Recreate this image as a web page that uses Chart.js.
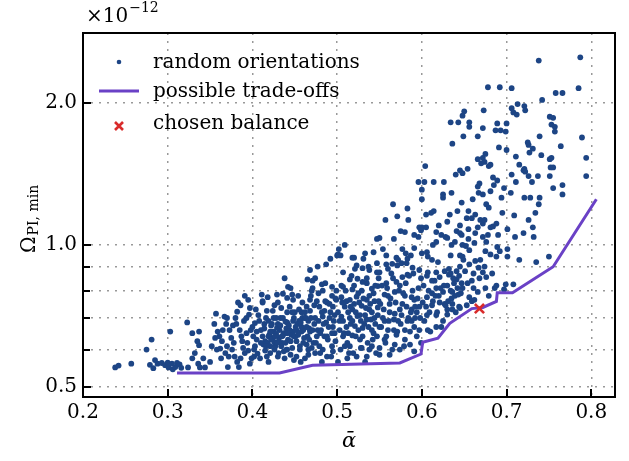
<!DOCTYPE html>
<html>
<head>
<meta charset="utf-8">
<script src="https://cdn.jsdelivr.net/npm/chart.js@4.4.1/dist/chart.umd.min.js"></script>
<style>
  html, body { margin: 0; padding: 0; background: #fff; }
  #wrap { width: 629px; height: 461px; }
</style>
</head>
<body>
<div id="wrap"><canvas id="chart" width="629" height="461"></canvas></div>
<script>
      // axis ticks (omega values in units of 1e-12)
      const xTicks = [0.2, 0.3, 0.4, 0.5, 0.6, 0.7, 0.8];
      const yTicks = [0.5, 0.6, 0.7, 0.8, 0.9, 1.0, 2.0];
      const yLabelled = [0.5, 1.0, 2.0];

      // possible trade-offs (lower front)
      const tradeAlpha = [0.311, 0.432, 0.471, 0.574, 0.599, 0.601, 0.619, 0.633, 0.659, 0.672, 0.688, 0.689, 0.707, 0.755, 0.806];
      const tradeOmega = [0.535, 0.535, 0.556, 0.562, 0.587, 0.622, 0.634, 0.682, 0.733, 0.737, 0.759, 0.792, 0.792, 0.899, 1.25];

      // chosen balance
      const chosenAlpha = [0.668];
      const chosenOmega = [0.733];

      // random orientations [alpha, omega]
      const randomPoints = [
        [0.238,0.55],[0.242,0.555],[0.257,0.56],[0.275,0.60],[0.281,0.63],[0.279,0.557],[0.283,0.548],[0.285,0.57],[0.288,0.56],[0.293,0.562],[0.297,0.556],[0.300,0.563],[0.301,0.55],
        [0.303,0.655],[0.305,0.56],[0.306,0.545],[0.309,0.551],[0.311,0.562],[0.314,0.558],[0.316,0.549],[0.323,0.685],[0.324,0.55],[0.329,0.65],[0.329,0.575],[0.332,0.59],[0.336,0.56],[0.338,0.55],[0.337,0.655],[0.335,0.625],[0.337,0.613],[0.342,0.575],[0.344,0.55],[0.350,0.565],
        [0.352,0.61],[0.356,0.635],[0.358,0.60],[0.357,0.715],[0.355,0.68],[0.359,0.655],[0.362,0.603],[0.363,0.575],[0.367,0.705],[0.365,0.66],[0.370,0.70],[0.370,0.61],[0.372,0.58],[0.371,0.551],[0.375,0.635],[0.377,0.675],[0.380,0.70],[0.382,0.722],[0.383,0.755],[0.386,0.745],[0.379,0.58],[0.382,0.565],[0.384,0.551],[0.388,0.625],[0.389,0.605],[0.391,0.59],[0.391,0.78],[0.393,0.70],[0.393,0.65],[0.396,0.712],[0.397,0.735],[0.395,0.597],[0.397,0.56],[0.399,0.575],[0.385,0.66],[0.364,0.625],[0.376,0.60],[0.395,0.765],
        [0.361,0.64],[0.368,0.59],[0.373,0.66],[0.378,0.62],[0.381,0.68],[0.387,0.64],[0.390,0.69],[0.394,0.62],[0.398,0.66],[0.369,0.68],[0.386,0.575],
        [0.400,0.67],[0.403,0.683],[0.405,0.63],[0.403,0.61],[0.402,0.58],[0.406,0.588],[0.411,0.785],[0.412,0.755],[0.412,0.64],[0.415,0.625],[0.417,0.725],[0.418,0.775],[0.415,0.597],[0.417,0.58],[0.419,0.565],[0.421,0.61],[0.423,0.68],[0.424,0.725],[0.424,0.635],[0.426,0.622],[0.426,0.60],[0.429,0.785],[0.430,0.755],[0.430,0.68],[0.430,0.58],[0.432,0.637],[0.435,0.62],[0.436,0.788],[0.438,0.85],[0.441,0.72],[0.441,0.685],[0.441,0.772],[0.441,0.60],[0.442,0.815],[0.444,0.74],[0.445,0.81],[0.447,0.785],[0.448,0.765],[0.448,0.655],[0.450,0.72],[0.449,0.70],
        [0.420,0.645],[0.425,0.655],[0.428,0.648],[0.432,0.66],[0.437,0.65],[0.434,0.61],[0.446,0.645],[0.440,0.665],[0.418,0.62],[0.422,0.675],[0.431,0.59],[0.438,0.575],
        [0.402,0.60],[0.405,0.655],[0.408,0.69],[0.409,0.575],[0.413,0.615],[0.414,0.665],[0.416,0.70],[0.419,0.64],[0.421,0.59],[0.423,0.655],[0.427,0.61],[0.429,0.667],[0.431,0.625],[0.433,0.70],[0.436,0.643],[0.437,0.595],[0.439,0.688],[0.442,0.63],[0.444,0.66],[0.447,0.605],[0.448,0.69],[0.449,0.57],[0.404,0.73],[0.426,0.745],[0.412,0.76],[0.434,0.735],
        [0.401,0.64],[0.407,0.71],[0.410,0.62],[0.414,0.68],[0.416,0.61],[0.419,0.69],[0.422,0.63],[0.425,0.70],[0.427,0.64],[0.429,0.62],[0.433,0.675],[0.435,0.64],[0.436,0.70],[0.439,0.62],[0.441,0.65],[0.443,0.675],[0.445,0.625],[0.447,0.72],[0.449,0.64],[0.410,0.66],[0.421,0.655],[0.428,0.70],[0.440,0.60],[0.445,0.585],
        [0.452,0.625],[0.452,0.58],[0.454,0.78],[0.456,0.61],[0.458,0.67],[0.459,0.70],[0.462,0.575],[0.464,0.74],[0.465,0.64],[0.465,0.845],[0.468,0.765],[0.468,0.885],[0.474,0.85],[0.477,0.90],[0.487,0.91],[0.492,0.935],[0.500,0.95],[0.471,0.84],[0.482,0.825],[0.470,0.80],[0.483,0.80],[0.494,0.815],[0.494,0.78],[0.476,0.76],[0.479,0.74],[0.488,0.755],[0.495,0.74],[0.499,0.765],[0.468,0.725],[0.462,0.70],[0.474,0.70],[0.483,0.705],[0.491,0.70],[0.495,0.67],[0.477,0.66],[0.468,0.655],[0.485,0.64],[0.497,0.65],[0.464,0.615],[0.479,0.61],[0.494,0.61],[0.474,0.59],[0.488,0.58],[0.495,0.595],[0.501,0.565],[0.482,0.565],
        [0.455,0.69],[0.452,0.66],[0.458,0.72],[0.460,0.62],[0.466,0.69],[0.470,0.605],[0.457,0.565],
        [0.451,0.64],[0.453,0.68],[0.456,0.60],[0.458,0.655],[0.459,0.755],[0.461,0.635],[0.463,0.70],[0.466,0.585],[0.467,0.665],[0.469,0.78],[0.472,0.62],[0.473,0.68],[0.476,0.64],[0.478,0.79],[0.481,0.66],[0.483,0.60],[0.485,0.725],[0.487,0.685],[0.489,0.63],[0.491,0.75],[0.493,0.58],[0.496,0.69],[0.498,0.625],[0.499,0.80],[0.455,0.73],[0.471,0.81],[0.486,0.83],
        [0.451,0.67],[0.454,0.645],[0.457,0.685],[0.460,0.66],[0.462,0.72],[0.464,0.67],[0.467,0.63],[0.469,0.70],[0.471,0.66],[0.473,0.745],[0.475,0.62],[0.478,0.69],[0.480,0.65],[0.482,0.72],[0.484,0.68],[0.486,0.76],[0.488,0.64],[0.490,0.67],[0.492,0.72],[0.494,0.65],[0.497,0.71],[0.498,0.77],[0.480,0.59],[0.466,0.60],
        [0.502,0.98],[0.501,0.955],[0.509,1.0],[0.518,0.94],[0.533,0.96],[0.543,0.965],[0.550,1.035],[0.507,0.875],[0.521,0.89],[0.530,0.893],[0.538,0.885],[0.547,0.915],[0.547,0.875],[0.515,0.845],[0.524,0.848],[0.535,0.83],[0.507,0.815],[0.518,0.805],[0.529,0.80],[0.541,0.808],[0.548,0.818],[0.505,0.775],[0.515,0.765],[0.523,0.777],[0.535,0.765],[0.544,0.76],[0.509,0.74],[0.518,0.73],[0.529,0.743],[0.538,0.73],[0.548,0.737],[0.505,0.705],[0.515,0.70],[0.524,0.707],[0.535,0.695],[0.544,0.70],[0.511,0.67],[0.521,0.673],[0.530,0.667],[0.541,0.66],[0.550,0.67],[0.507,0.64],[0.518,0.643],[0.530,0.64],[0.542,0.63],[0.515,0.61],[0.529,0.605],[0.541,0.61],[0.523,0.58],[0.535,0.58],[0.550,0.605],[0.512,0.575],[0.533,0.565],[0.550,0.585],
        [0.547,1.03],[0.520,0.94],[0.531,0.935],[0.523,0.905],[0.537,0.90],[0.504,0.95],
        [0.503,0.69],[0.504,0.60],[0.506,0.755],[0.508,0.65],[0.510,0.80],[0.512,0.62],[0.513,0.72],[0.516,0.68],[0.517,0.86],[0.519,0.59],[0.520,0.75],[0.522,0.64],[0.525,0.79],[0.527,0.71],[0.528,0.605],[0.530,0.835],[0.532,0.68],[0.534,0.735],[0.536,0.62],[0.538,0.78],[0.540,0.695],[0.543,0.65],[0.545,0.82],[0.546,0.59],[0.548,0.71],[0.549,0.76],
        [0.501,0.72],[0.503,0.66],[0.505,0.82],[0.507,0.69],[0.509,0.61],[0.511,0.76],[0.513,0.65],[0.516,0.74],[0.518,0.69],[0.520,0.82],[0.522,0.72],[0.525,0.66],[0.526,0.755],[0.528,0.69],[0.531,0.77],[0.533,0.71],[0.535,0.85],[0.537,0.67],[0.539,0.75],[0.541,0.72],[0.543,0.79],[0.545,0.68],[0.547,0.64],[0.549,0.85],[0.514,0.59],[0.527,0.63],[0.538,0.60],
        [0.566,1.22],[0.571,1.15],[0.557,1.13],[0.583,1.195],[0.584,1.13],[0.567,1.03],[0.575,1.07],[0.580,1.065],[0.591,1.05],[0.597,1.09],[0.596,1.04],[0.554,0.98],[0.558,0.95],[0.570,0.94],[0.577,0.98],[0.581,0.96],[0.583,0.935],[0.576,0.915],[0.591,0.985],[0.600,0.96],[0.558,0.91],[0.565,0.912],[0.571,0.905],[0.582,0.915],[0.550,0.875],[0.558,0.83],[0.570,0.835],[0.577,0.855],[0.583,0.865],[0.589,0.895],[0.597,0.885],[0.556,0.785],[0.568,0.795],[0.580,0.78],[0.591,0.765],[0.562,0.75],[0.574,0.73],[0.588,0.73],[0.597,0.74],[0.554,0.70],[0.567,0.695],[0.583,0.69],[0.594,0.72],[0.560,0.66],[0.571,0.655],[0.588,0.69],[0.591,0.67],[0.556,0.63],[0.568,0.615],[0.580,0.63],[0.562,0.585],[0.574,0.60],[0.586,0.615],[0.591,0.595],[0.596,1.36],
        [0.552,0.67],[0.555,0.73],[0.557,0.62],[0.559,0.81],[0.561,0.69],[0.563,0.77],[0.565,0.60],[0.566,0.85],[0.568,0.715],[0.570,0.645],[0.573,0.80],[0.575,0.68],[0.577,0.75],[0.579,0.61],[0.581,0.83],[0.584,0.70],[0.586,0.655],[0.588,0.775],[0.590,0.87],[0.592,0.74],[0.594,0.64],[0.596,0.81],[0.598,0.70],[0.599,0.62],
        [0.551,0.75],[0.553,0.82],[0.556,0.69],[0.558,0.64],[0.560,0.78],[0.562,0.72],[0.564,0.87],[0.567,0.66],[0.569,0.755],[0.572,0.69],[0.574,0.82],[0.576,0.71],[0.578,0.79],[0.580,0.66],[0.582,0.74],[0.585,0.86],[0.587,0.72],[0.589,0.80],[0.592,0.70],[0.595,0.77],[0.597,0.66],[0.599,0.85],[0.572,0.93],[0.587,0.95],[0.560,0.89],
        [0.604,1.47],[0.603,1.36],[0.614,1.36],[0.626,1.36],[0.600,1.31],[0.600,1.25],[0.625,1.28],[0.625,1.26],[0.635,1.29],[0.647,1.23],[0.645,1.44],[0.640,1.41],[0.648,1.42],[0.634,1.82],[0.643,1.82],[0.636,1.64],[0.650,1.92],[0.648,1.88],[0.649,1.70],[0.605,1.16],[0.611,1.17],[0.614,1.18],[0.633,1.16],[0.642,1.18],[0.630,1.12],[0.600,1.09],[0.599,1.075],[0.617,1.065],[0.623,1.05],[0.628,1.04],[0.641,1.07],[0.647,1.05],[0.605,1.09],[0.617,1.015],[0.630,1.035],[0.639,1.015],[0.645,1.06],[0.645,0.95],[0.648,1.0],[0.606,0.965],[0.607,0.945],[0.612,0.93],[0.607,0.875],[0.617,0.875],[0.621,0.855],[0.632,0.865],[0.630,0.82],[0.641,0.845],[0.625,0.795],[0.617,0.81],[0.612,0.79],[0.606,0.775],[0.601,0.755],[0.636,0.795],[0.643,0.785],[0.612,0.745],[0.621,0.755],[0.627,0.75],[0.630,0.73],[0.636,0.75],[0.644,0.74],[0.606,0.71],[0.617,0.71],[0.625,0.69],[0.607,0.66],[0.617,0.67],[0.634,0.87],[0.641,0.88],[0.645,0.90],[0.634,0.80],[0.639,0.78],[0.630,0.712],[0.636,0.73],[0.645,0.735],[0.647,0.83],[0.648,0.81],[0.648,0.945],
        [0.603,0.69],[0.605,0.74],[0.608,0.80],[0.610,0.655],[0.613,0.76],[0.615,0.84],[0.618,0.72],[0.620,0.78],[0.623,0.67],[0.626,0.82],[0.628,0.745],[0.632,0.89],[0.635,0.77],[0.638,0.83],[0.640,0.72],[0.644,0.86],[0.646,0.79],[0.649,0.93],
        [0.602,0.82],[0.606,0.86],[0.609,0.72],[0.612,0.84],[0.616,0.78],[0.619,0.92],[0.622,0.81],[0.627,0.88],[0.631,0.76],[0.634,0.95],[0.637,0.85],[0.642,0.81],[0.645,1.10],[0.651,0.88],[0.655,1.03],[0.659,0.84],[0.663,1.06],[0.669,0.93],[0.675,0.97],[0.679,1.20],[0.683,0.87],[0.690,1.05],[0.695,1.17],[0.620,1.10],[0.613,1.00],[0.635,1.00],[0.660,1.25],[0.676,1.22],
        [0.654,1.45],[0.656,1.82],[0.656,1.78],[0.666,1.70],[0.672,1.77],[0.673,1.93],[0.678,2.16],[0.692,2.16],[0.666,1.52],[0.672,1.53],[0.674,1.50],[0.670,1.49],[0.679,1.47],[0.675,1.56],[0.689,1.81],[0.700,1.81],[0.687,1.75],[0.693,1.75],[0.699,1.74],[0.691,1.61],[0.700,1.59],[0.681,1.48],[0.666,1.33],[0.668,1.35],[0.667,1.29],[0.672,1.28],[0.681,1.30],[0.685,1.34],[0.684,1.39],[0.689,1.37],[0.697,1.32],[0.694,1.26],[0.655,1.18],[0.663,1.16],[0.653,1.14],[0.659,1.14],[0.669,1.13],[0.672,1.11],[0.674,1.13],[0.655,1.08],[0.666,1.09],[0.681,1.09],[0.684,1.095],[0.688,1.11],[0.678,1.05],[0.672,1.04],[0.676,1.015],[0.689,0.99],[0.692,0.97],[0.681,0.955],[0.688,0.945],[0.652,0.995],[0.656,0.975],[0.662,1.01],[0.663,0.925],[0.656,0.91],[0.667,0.895],[0.672,0.875],[0.674,0.90],[0.676,0.855],[0.661,0.87],[0.668,0.85],[0.654,0.83],[0.661,0.81],[0.666,0.795],[0.675,0.81],[0.686,0.81],[0.688,0.82],[0.697,0.805],[0.699,0.825],[0.679,0.78],[0.656,0.775],[0.659,0.76],[0.653,0.745],[0.662,0.765],
        [0.706,2.15],[0.713,1.99],[0.721,1.97],[0.722,1.93],[0.706,1.95],[0.708,1.91],[0.712,1.89],[0.738,2.46],[0.742,2.03],[0.725,1.65],[0.726,1.63],[0.731,1.60],[0.727,1.57],[0.741,1.55],[0.739,1.70],[0.711,1.54],[0.715,1.48],[0.721,1.45],[0.720,1.44],[0.722,1.43],[0.726,1.40],[0.730,1.36],[0.737,1.40],[0.706,1.41],[0.711,1.36],[0.705,1.29],[0.721,1.26],[0.728,1.26],[0.739,1.26],[0.738,1.22],[0.734,1.17],[0.726,1.13],[0.731,1.09],[0.720,1.06],[0.709,1.155],[0.701,1.08],[0.710,1.04],[0.732,1.04],[0.701,0.98],[0.701,0.945],[0.715,0.93],[0.735,0.92],[0.750,0.945],[0.708,0.825],
        [0.751,1.87],[0.755,1.86],[0.753,1.80],[0.757,1.78],[0.757,1.74],[0.758,2.10],[0.766,2.10],[0.787,2.50],[0.785,2.15],[0.764,1.62],[0.789,1.69],[0.794,1.53],[0.751,1.52],[0.753,1.53],[0.752,1.46],[0.755,1.46],[0.751,1.40],[0.766,1.34],[0.755,1.32],[0.794,1.40],[0.766,1.28]
      ];

      const FONT = "'DejaVu Serif', serif";
      const BLUE = "#1d4585";
      const PURPLE = "#6a41c6";
      const RED = "#d92b2b";
      const GRID = "#999999";

      // frame, inward ticks, titles and legend like the matplotlib figure
      const decorations = {
        id: "decorations",
        afterDraw(chart) {
          const { ctx, chartArea: a, scales } = chart;
          ctx.save();
          ctx.strokeStyle = "#000";
          ctx.lineWidth = 2;
          xTicks.forEach((v) => {
            const px = Math.round(scales.x.getPixelForValue(v));
            ctx.beginPath();
            ctx.moveTo(px, a.bottom);
            ctx.lineTo(px, a.bottom - 8);
            ctx.stroke();
          });
          yTicks.forEach((v) => {
            const py = Math.round(scales.y.getPixelForValue(v));
            const len = yLabelled.includes(v) ? 8 : 7;
            ctx.beginPath();
            ctx.moveTo(a.left, py);
            ctx.lineTo(a.left + len, py);
            ctx.stroke();
          });
          ctx.strokeRect(a.left, a.top, a.right - a.left, a.bottom - a.top);

          ctx.fillStyle = "#000";
          ctx.textBaseline = "alphabetic";
          ctx.textAlign = "left";

          // offset text
          ctx.font = "20px " + FONT;
          ctx.fillText("×10", 86, 22);
          const w10 = ctx.measureText("×10").width;
          ctx.font = "14px " + FONT;
          ctx.fillText("−12", 86 + w10 + 1, 12);

          // y title
          ctx.save();
          ctx.translate(35, 253);
          ctx.rotate(-Math.PI / 2);
          ctx.font = "20px " + FONT;
          ctx.fillText("Ω", 0, 0);
          const wO = ctx.measureText("Ω").width;
          ctx.font = "14px " + FONT;
          ctx.fillText("PI, min", wO + 1, 3);
          ctx.restore();

          // x title
          ctx.font = "italic 21px " + FONT;
          ctx.textAlign = "center";
          ctx.fillText("α\u0304", (a.left + a.right) / 2, 447);

          // legend
          ctx.textAlign = "left";
          ctx.font = "20px " + FONT;
          ctx.fillStyle = BLUE;
          ctx.beginPath();
          ctx.arc(119, 62, 2.3, 0, Math.PI * 2);
          ctx.fill();
          ctx.strokeStyle = PURPLE;
          ctx.lineWidth = 3;
          ctx.beginPath();
          ctx.moveTo(99, 91);
          ctx.lineTo(139, 91);
          ctx.stroke();
          ctx.strokeStyle = RED;
          ctx.lineWidth = 2.6;
          ctx.beginPath();
          ctx.moveTo(115, 122);
          ctx.lineTo(123, 130);
          ctx.moveTo(123, 122);
          ctx.lineTo(115, 130);
          ctx.stroke();
          ctx.fillStyle = "#000";
          ctx.fillText("random orientations", 153, 68);
          ctx.fillText("possible trade-offs", 153, 97);
          ctx.fillText("chosen balance", 153, 129);
          ctx.restore();
        },
      };

      const ctx = document.getElementById("chart").getContext("2d");

      new Chart(ctx, {
        type: "scatter",
        data: {
          datasets: [
            {
              label: "chosen balance",
              data: chosenAlpha.map((x, i) => ({ x, y: chosenOmega[i] })),
              pointStyle: "crossRot",
              pointRadius: 6.5,
              borderColor: RED,
              borderWidth: 2.6,
              order: 0,
            },
            {
              label: "possible trade-offs",
              data: tradeAlpha.map((x, i) => ({ x, y: tradeOmega[i] })),
              showLine: true,
              borderColor: PURPLE,
              borderWidth: 3,
              pointRadius: 0,
              tension: 0,
              order: 1,
            },
            {
              label: "random orientations",
              data: randomPoints.map((p) => ({ x: p[0], y: p[1] })),
              pointRadius: 2.9,
              backgroundColor: BLUE,
              borderWidth: 0,
              order: 2,
            },
          ],
        },
        options: {
          responsive: false,
          animation: false,
          devicePixelRatio: 1,
          layout: { padding: { top: 33, right: 14, left: 0, bottom: 0 } },
          plugins: {
            legend: { display: false },
            tooltip: { enabled: false },
          },
          scales: {
            x: {
              type: "linear",
              min: 0.2,
              max: 0.828,
              afterBuildTicks: (s) => {
                s.ticks = xTicks.map((v) => ({ value: v }));
              },
              afterFit: (s) => {
                s.height = 64;
              },
              grid: { color: GRID, lineWidth: 1.5, drawTicks: false },
              border: { display: false, dash: [2, 6] },
              ticks: {
                callback: (v) => v.toFixed(1),
                font: { family: FONT, size: 20 },
                color: "#000",
                padding: 4,
                maxRotation: 0,
              },
            },
            y: {
              type: "logarithmic",
              min: 0.476,
              max: 2.815,
              afterBuildTicks: (s) => {
                s.ticks = yTicks.map((v) => ({ value: v }));
              },
              afterFit: (s) => {
                s.width = 83;
              },
              grid: { color: GRID, lineWidth: 1.5, drawTicks: false },
              border: { display: false, dash: [2, 6] },
              ticks: {
                callback: (v) => (yLabelled.includes(v) ? v.toFixed(1) : ""),
                font: { family: FONT, size: 20 },
                color: "#000",
                padding: 6,
                autoSkip: false,
              },
            },
          },
        },
        plugins: [decorations],
      });
</script>
</body>
</html>
